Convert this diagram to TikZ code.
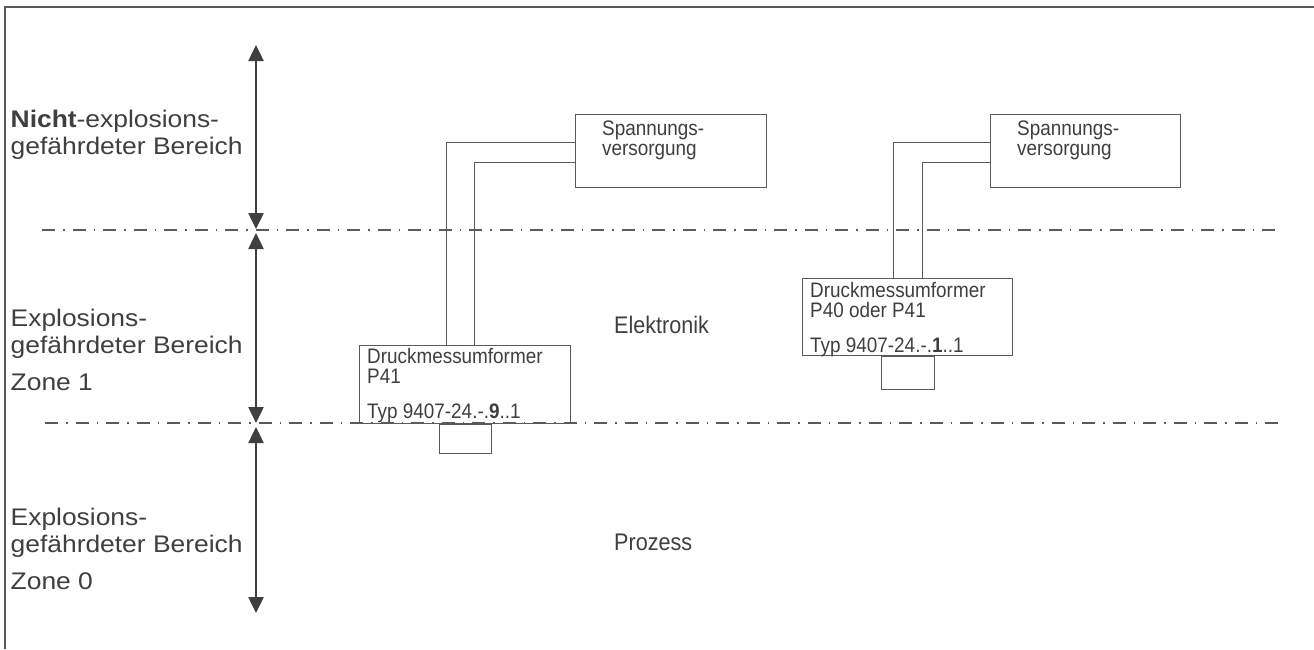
\documentclass[tikz,border=0pt]{standalone}
\usepackage{fontspec}
\setmainfont{Liberation Sans}
\newfontfamily\widefont[FakeStretch=1.1]{Liberation Sans}
\newfontfamily\narrowfont[FakeStretch=0.9]{Liberation Sans}
\usetikzlibrary{positioning, arrows.meta}
\definecolor{ink}{HTML}{3F3F3F}
\definecolor{wirecol}{HTML}{5A5A5A}

\begin{document}
\begin{tikzpicture}[x=1pt, y=-1pt]
        \tikzstyle{zonetext} = [anchor=north west, inner sep=0pt, align=left, text=ink,
          font=\widefont\fontsize{24}{27}\selectfont]
        \tikzstyle{boxtext} = [anchor=north west, inner sep=0pt, align=left, text=ink,
          font=\narrowfont\fontsize{21}{20}\selectfont]
        \tikzstyle{areatext} = [anchor=base west, inner sep=0pt, text=ink,
          font=\narrowfont\fontsize{24}{27}\selectfont]
        \tikzstyle{unit} = [rectangle, draw=wirecol, line width=0.9pt, inner sep=0pt, anchor=north west]
        \tikzstyle{wire} = [draw=wirecol, line width=0.9pt]
        \tikzstyle{border} = [draw=wirecol, line width=1.2pt, dash pattern=on 13pt off 8pt on 1.5pt off 8pt]
        \tikzstyle{zonearrow} = [{Triangle[length=16pt,width=15pt]}-{Triangle[length=16pt,width=15pt]},
          draw=ink, line width=2.5pt]

        \fill[white] (0,0) rectangle (1314,649);
        \useasboundingbox (0,0) rectangle (1314,649);
        \draw[wirecol, line width=1.2pt] (5,649) -- (5,7) -- (1314,7);

        \coordinate (b1w) at (42,230);
        \coordinate (b1e) at (1275,230);
        \coordinate (b2w) at (45,423);
        \coordinate (b2e) at (1280,423);
        \draw[border] (b1w) -- (b1e);
        \draw[border] (b2w) -- (b2e);

        \foreach \z/\from/\to in {0/45/229, 1/233/423, 2/427/613} {
          \coordinate (zt\z) at (256,\from);
          \coordinate (zb\z) at (256,\to);
          \draw[zonearrow] (zt\z) -- (zb\z);
        }

        \node[zonetext] (safe) at (10.5,110) {\textbf{Nicht}-explosions-\\gefährdeter Bereich};
        \node[zonetext] (zone1) at (10.5,309) {Explosions-\\gefährdeter Bereich\\[10pt]Zone 1};
        \node[zonetext] (zone0) at (10.5,508) {Explosions-\\gefährdeter Bereich\\[10pt]Zone 0};

        \node[unit, minimum width=191pt, minimum height=73pt] (spv1) at (575,114) {};
        \node[boxtext] (spv1txt) at ([xshift=27pt, yshift=-7pt]spv1.north west) {Spannungs-\\versorgung};
        \node[unit, minimum width=211pt, minimum height=78pt] (dmu1) at (359,345) {};
        \node[boxtext] (dmu1txt) at ([xshift=8pt, yshift=-3pt]dmu1.north west)
          {Druckmessumformer\\P41\\[15pt]Typ 9407-24.-.\textbf{9}..1};
        \node[unit, anchor=north, minimum width=52pt, minimum height=29pt, below=0pt of dmu1] (sens1) {};
        \draw[wire] ([yshift=8.5pt]spv1.west) -| ([xshift=-18.5pt]dmu1.north);
        \draw[wire] ([yshift=-11.5pt]spv1.west) -| ([xshift=9.5pt]dmu1.north);

        \node[unit, minimum width=190pt, minimum height=73pt] (spv2) at (990,114) {};
        \node[boxtext] (spv2txt) at ([xshift=27pt, yshift=-7pt]spv2.north west) {Spannungs-\\versorgung};
        \node[unit, minimum width=210pt, minimum height=77pt] (dmu2) at (802,278) {};
        \node[boxtext] (dmu2txt) at ([xshift=8pt, yshift=-4pt]dmu2.north west)
          {Druckmessumformer\\P40 oder P41\\[15pt]Typ 9407-24.-.\textbf{1}..1};
        \node[unit, anchor=north, minimum width=53pt, minimum height=33pt, below=0pt of dmu2] (sens2) {};
        \draw[wire] ([yshift=8.5pt]spv2.west) -| ([xshift=-14pt]dmu2.north);
        \draw[wire] ([yshift=-11.5pt]spv2.west) -| ([xshift=15pt]dmu2.north);

        \node[areatext] (elek) at (614,333) {Elektronik};
        \node[areatext] (proz) at (614,550) {Prozess};
      \end{tikzpicture}
\end{document}
